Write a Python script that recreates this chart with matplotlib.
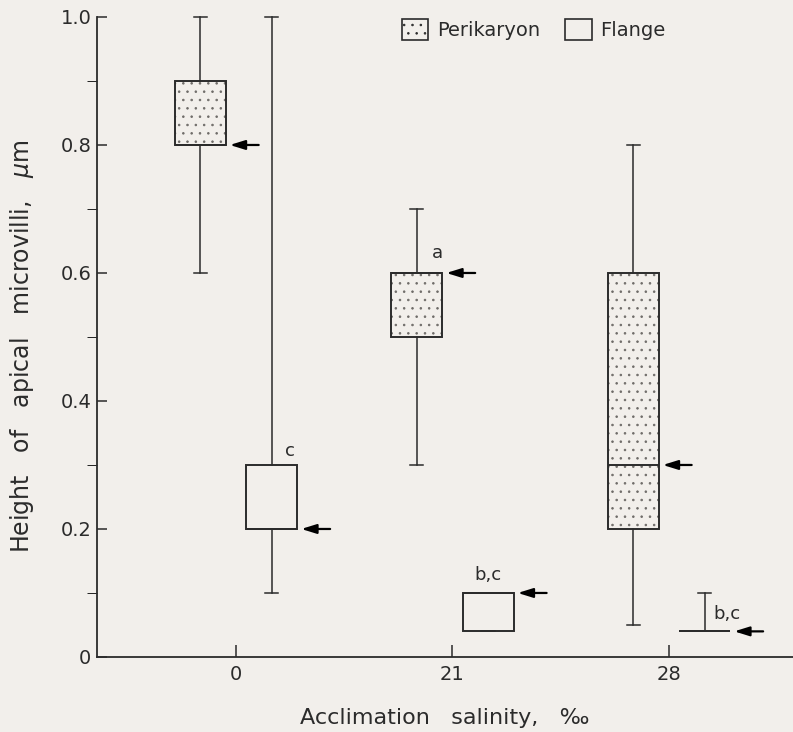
"""Apical microvilli height vs acclimation salinity (perikaryon / flange)."""

import matplotlib

matplotlib.use("Agg")
import matplotlib.pyplot as plt
from matplotlib.patches import Patch

# data
salinity = ["0", "21", "28"]

peri_whislo = [0.60, 0.30, 0.05]
peri_q1 = [0.80, 0.50, 0.20]
peri_med = [0.80, 0.60, 0.30]
peri_q3 = [0.90, 0.60, 0.60]
peri_whishi = [1.00, 0.70, 0.80]
peri_sig = ["", "a", ""]

flange_whislo = [0.10, 0.04, 0.04]
flange_q1 = [0.20, 0.04, 0.04]
flange_med = [0.20, 0.10, 0.04]
flange_q3 = [0.30, 0.10, 0.04]
flange_whishi = [1.00, 0.10, 0.10]
flange_sig = ["c", "b,c", "b,c"]

BG = "#f2efeb"
INK = "#2b2b2b"
DOTS = "#6e6b68"
OFFSET = 0.165
WIDTH = 0.235

plt.rcParams["font.family"] = ["DejaVu Sans"]
plt.rcParams["hatch.linewidth"] = 0.6


def make_stats(lo, q1, med, q3, hi):
    return [
        dict(whislo=a, q1=b, med=c, q3=d, whishi=e, fliers=[])
        for a, b, c, d, e in zip(lo, q1, med, q3, hi)
    ]


def draw_group(ax, stats, positions, hatch):
    art = ax.bxp(
        stats,
        positions=positions,
        widths=WIDTH,
        capwidths=0.062,
        patch_artist=True,
        showfliers=False,
        boxprops=dict(facecolor=BG, edgecolor=INK, linewidth=1.4, hatch=hatch),
        medianprops=dict(color=INK, linewidth=1.4),
        whiskerprops=dict(color=INK, linewidth=1.1),
        capprops=dict(color=INK, linewidth=1.1),
        manage_ticks=False,
    )
    for key in ("boxes", "medians", "whiskers", "caps"):
        for a in art[key]:
            a.set_clip_on(False)
    if hatch:
        # lighter dots than the outline (no public setter in mpl 3.10)
        for b in art["boxes"]:
            b._hatch_color = matplotlib.colors.to_rgba(DOTS)
    return art


def mark_median(ax, x_right, med):
    ax.annotate(
        "",
        xy=(x_right, med),
        xytext=(33, 0),
        textcoords="offset pixels",
        arrowprops=dict(
            arrowstyle="-|>,head_length=0.9,head_width=0.28",
            color="black",
            lw=1.6,
            shrinkA=0,
            shrinkB=3,
        ),
        annotation_clip=False,
    )


fig = plt.figure(figsize=(7.93, 7.32), dpi=100, facecolor=BG)
ax = fig.add_axes([0.1223, 0.1025, 0.8777, 0.8743])
ax.set_facecolor(BG)

ticks = list(range(len(salinity)))
peri_x = [t - OFFSET for t in ticks]
flange_x = [t + OFFSET for t in ticks]

draw_group(ax, make_stats(peri_whislo, peri_q1, peri_med, peri_q3, peri_whishi), peri_x, "..")
draw_group(ax, make_stats(flange_whislo, flange_q1, flange_med, flange_q3, flange_whishi), flange_x, None)

for x, m in zip(peri_x, peri_med):
    mark_median(ax, x + WIDTH / 2, m)
for x, m in zip(flange_x, flange_med):
    mark_median(ax, x + WIDTH / 2, m)

# significance letters
for x, top, s in zip(peri_x, peri_q3, peri_sig):
    if s:
        ax.annotate(s, (x + WIDTH / 2, top), xytext=(-5, 20), textcoords="offset pixels",
                    ha="center", va="center", fontsize=13, color=INK)
sig_dx = [-7, 0, 22]
sig_dy = [14, 18, 17]
for i, (x, top, s) in enumerate(zip(flange_x, flange_q3, flange_sig)):
    ax.annotate(s, (x + (WIDTH / 2 if i == 0 else 0), top), xytext=(sig_dx[i], sig_dy[i]),
                textcoords="offset pixels", ha="center", va="center", fontsize=13, color=INK)

ax.set_xlim(-0.642, 2.573)
ax.set_ylim(0, 1.0)
ax.set_xticks(ticks)
ax.set_xticklabels(salinity)
ax.set_yticks([0, 0.2, 0.4, 0.6, 0.8, 1.0])
ax.set_yticklabels(["0", "0.2", "0.4", "0.6", "0.8", "1.0"])
ax.set_yticks([0.1, 0.3, 0.5, 0.7, 0.9], minor=True)

ax.tick_params(axis="both", direction="in", colors=INK, labelsize=14, width=1.1)
ax.tick_params(axis="x", length=9, pad=6)
ax.tick_params(axis="y", which="both", length=7, pad=4)

for side in ("top", "right"):
    ax.spines[side].set_visible(False)
for side in ("left", "bottom"):
    ax.spines[side].set_color(INK)
    ax.spines[side].set_linewidth(1.3)

ax.set_xlabel("Acclimation   salinity,   \u2030", fontsize=16, color=INK)
ax.xaxis.set_label_coords(0.5, -0.08)
ax.set_ylabel("Height   of   apical   microvilli,   $\\mu$m", fontsize=17, color=INK)
ax.yaxis.set_label_coords(-0.088, 0.485)

handles = [
    Patch(facecolor=BG, edgecolor=INK, hatch="..", linewidth=1.2, label="Perikaryon"),
    Patch(facecolor=BG, edgecolor=INK, linewidth=1.2, label="Flange"),
]
fig.legend(
    handles=handles,
    loc="upper left",
    bbox_to_anchor=(402 / 793, 1 - 19 / 732),
    ncol=2,
    frameon=False,
    fontsize=14,
    handlelength=1.35,
    handleheight=1.3,
    handletextpad=0.45,
    columnspacing=1.3,
    borderpad=0,
    borderaxespad=0,
    labelcolor=INK,
)

fig.savefig("out.png", dpi=100, facecolor=BG)
